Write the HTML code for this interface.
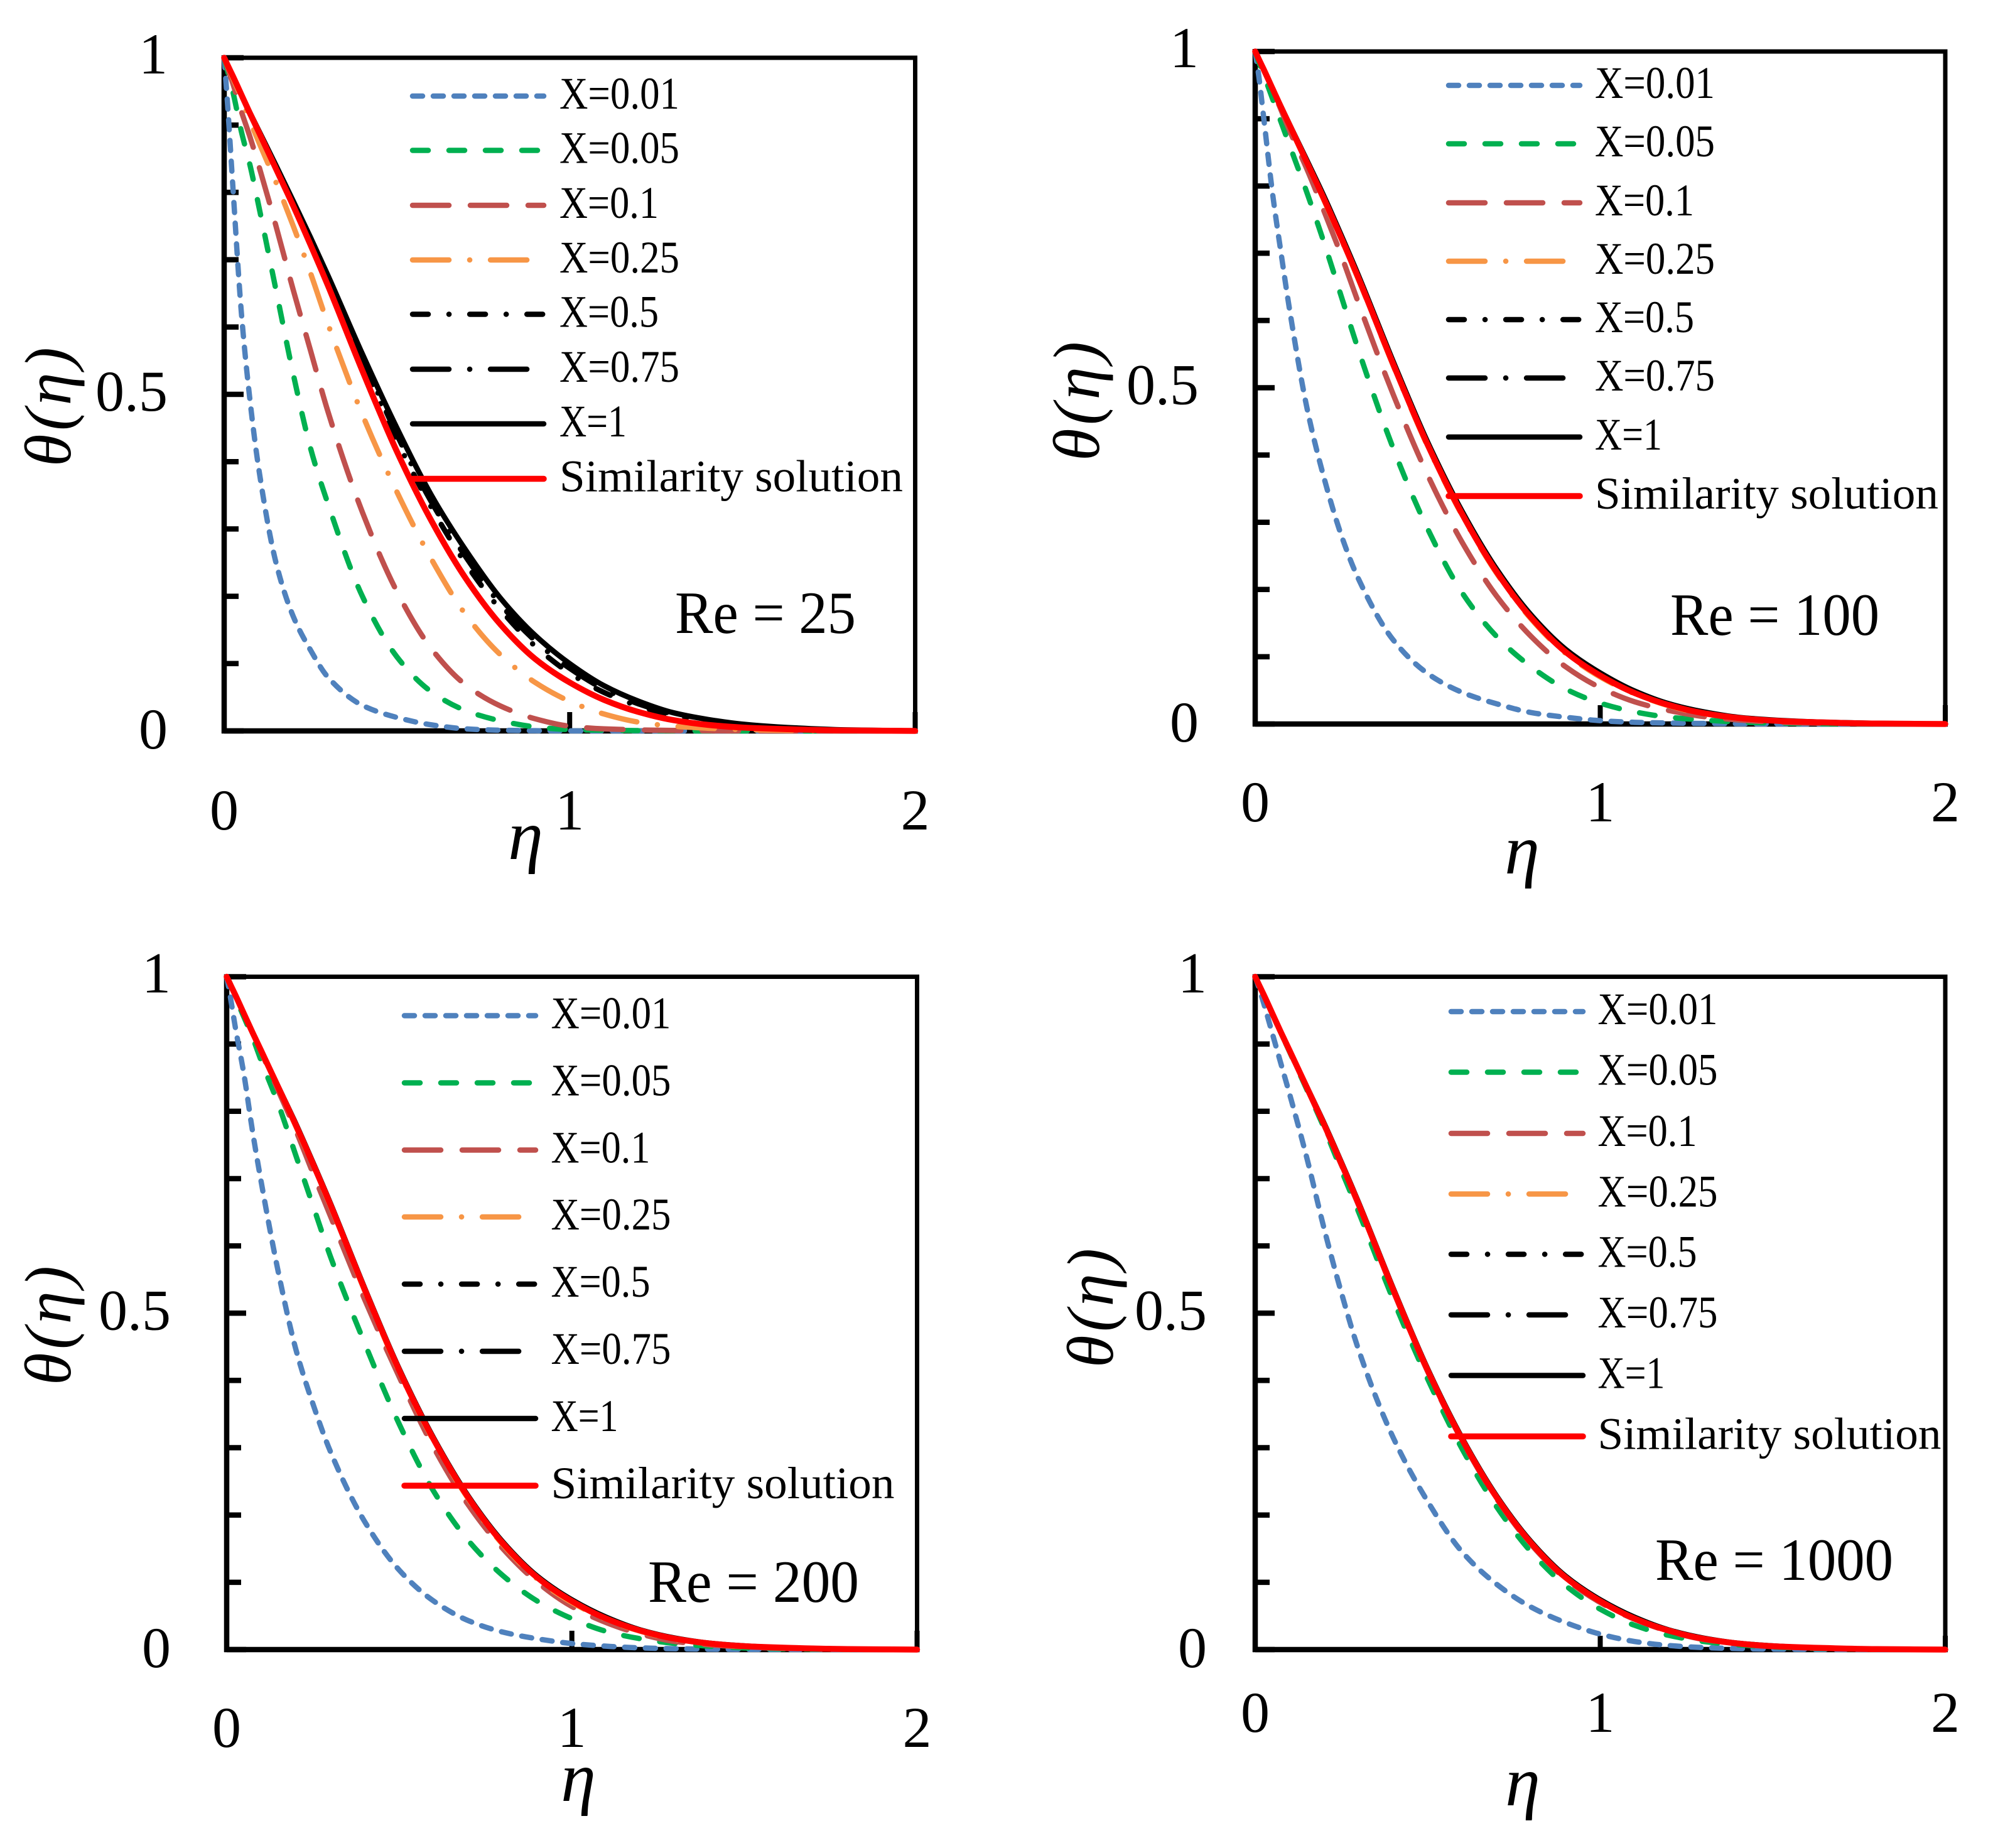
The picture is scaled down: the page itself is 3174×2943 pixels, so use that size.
<!DOCTYPE html>
<html lang="en">
<head>
<meta charset="utf-8">
<title>Theta profiles for Re = 25, 100, 200, 1000</title>
<style>
html,body{margin:0;padding:0;background:#fff;}
svg{display:block;}
text{font-family:"Liberation Serif",serif;fill:#000;}
</style>
</head>
<body>
<svg id="chart" xmlns="http://www.w3.org/2000/svg" width="3174" height="2943" viewBox="0 0 3174 2943"></svg>
<script>
const etaGrid = [0,.01,.025,.05,.075,.1,.15,.2,.25,.3,.4,.5,.6,.7,.8,.9,1,1.1,1.2,1.3,1.4,1.5,1.6,1.8,2];
const xTickLabels = [0,1,2];
const yTickLabels = [0,0.5,1];
const yMinorTicks = [0.1,0.2,0.3,0.4,0.6,0.7,0.8,0.9];
const legendLabels = ["X=0.01","X=0.05","X=0.1","X=0.25","X=0.5","X=0.75","X=1","Similarity solution"];

const re25X001 = [1,.93,.81,.62,.49,.39,.25,.17,.12,.08,.038,.02,.009,.003,.001,.0003,.0001,0,0,0,0,0,0,0,0];
const re25X005 = [1,.98,.95,.89,.84,.78,.655,.53,.42,.338,.2,.11,.058,.03,.015,.006,.002,.001,.0005,.0002,0,0,0,0,0];
const re25X01 = [1,.985,.962,.92,.882,.84,.75,.655,.565,.475,.325,.207,.122,.068,.037,.018,.007,.003,.0015,.0007,.0003,.0001,0,0,0];
const re25X025 = [1,.988,.97,.94,.906,.875,.815,.75,.68,.605,.47,.355,.255,.172,.113,.072,.044,.025,.013,.007,.004,.002,.001,.0002,0];
const re25X05 = [1,.989,.973,.945,.917,.89,.837,.782,.726,.667,.55,.432,.332,.248,.18,.126,.086,.057,.037,.023,.014,.008,.005,.001,0];
const re25X075 = [1,.989,.973,.945,.917,.891,.838,.785,.73,.672,.555,.44,.34,.258,.188,.134,.093,.062,.04,.025,.015,.009,.0055,.001,0];
const re25X1 = [1,.989,.973,.945,.918,.892,.84,.787,.733,.677,.56,.45,.35,.268,.197,.142,.1,.067,.044,.027,.017,.01,.006,.0015,0];
const re25Sim = [1,.989,.973,.945,.917,.89,.835,.78,.722,.662,.535,.415,.312,.226,.158,.107,.072,.046,.028,.016,.009,.005,.003,.0007,0];

const re100X001 = [1,.965,.9,.79,.7,.615,.47,.365,.28,.215,.125,.075,.047,.03,.017,.01,.005,.0025,.0015,.0008,.0004,.0002,0,0,0];
const re100X005 = [1,.985,.965,.93,.895,.86,.79,.715,.635,.555,.41,.29,.195,.13,.085,.052,.031,.018,.01,.006,.003,.0015,.0007,.0001,0];
const re100X01 = [1,.99,.972,.944,.913,.882,.825,.762,.696,.625,.49,.37,.27,.19,.13,.085,.054,.033,.02,.011,.006,.003,.0015,.0003,0];
const re100X025 = [1,.989,.973,.945,.916,.889,.834,.778,.72,.66,.533,.413,.31,.224,.156,.105,.07,.045,.027,.015,.0085,.0045,.0028,.0006,0];
const re100X05 = [1,.989,.973,.945,.917,.89,.835,.78,.722,.662,.535,.415,.312,.226,.158,.107,.072,.046,.028,.016,.009,.005,.003,.0007,0];
const re100X075 = [1,.989,.973,.945,.917,.89,.836,.782,.724,.664,.537,.417,.314,.228,.16,.109,.074,.048,.029,.017,.0095,.0055,.003,.0008,0];
const re100X1 = [1,.989,.973,.945,.918,.891,.838,.784,.726,.666,.539,.419,.316,.23,.162,.111,.076,.049,.03,.018,.01,.006,.0035,.001,0];
const re100Sim = [1,.989,.973,.945,.917,.89,.835,.78,.722,.662,.535,.415,.312,.226,.158,.107,.072,.046,.028,.016,.009,.005,.003,.0007,0];

const re200X001 = [1,.972,.925,.855,.77,.695,.56,.447,.365,.295,.19,.118,.072,.043,.026,.016,.009,.005,.0025,.0013,.0006,.0003,.0001,0,0];
const re200X005 = [1,.99,.97,.94,.91,.875,.81,.735,.66,.585,.455,.335,.235,.162,.11,.072,.046,.027,.016,.009,.005,.0025,.0012,.0002,0];
const re200X01 = [1,.989,.973,.945,.917,.888,.83,.772,.708,.645,.52,.405,.3,.215,.15,.1,.064,.04,.023,.012,.007,.004,.002,.0004,0];
const re200X025 = [1,.989,.973,.945,.916,.889,.834,.778,.72,.66,.533,.413,.31,.224,.156,.105,.07,.045,.027,.015,.0085,.0045,.0028,.0006,0];
const re200X05 = [1,.989,.973,.945,.917,.89,.835,.78,.722,.662,.535,.415,.312,.226,.158,.107,.072,.046,.028,.016,.009,.005,.003,.0007,0];
const re200X075 = [1,.989,.973,.945,.917,.89,.835,.781,.723,.663,.536,.416,.313,.227,.159,.108,.073,.047,.028,.016,.009,.005,.003,.0007,0];
const re200X1 = [1,.989,.973,.945,.917,.89,.836,.782,.724,.664,.537,.417,.314,.228,.16,.109,.074,.048,.029,.017,.0095,.0055,.003,.0008,0];
const re200Sim = [1,.989,.973,.945,.917,.89,.835,.78,.722,.662,.535,.415,.312,.226,.158,.107,.072,.046,.028,.016,.009,.005,.003,.0007,0];

const re1000X001 = [1,.985,.96,.915,.87,.825,.73,.625,.53,.445,.315,.22,.145,.097,.063,.04,.023,.012,.006,.003,.0015,.0007,.0003,0,0];
const re1000X005 = [1,.989,.972,.944,.916,.888,.832,.775,.712,.65,.52,.402,.298,.212,.145,.095,.06,.036,.021,.012,.007,.004,.002,.0004,0];
const re1000X01 = [1,.989,.973,.945,.916,.889,.834,.778,.72,.66,.533,.413,.31,.224,.156,.105,.07,.045,.027,.015,.0085,.0045,.0028,.0006,0];
const re1000X025 = [1,.989,.973,.945,.917,.89,.835,.78,.722,.662,.535,.415,.312,.226,.158,.107,.072,.046,.028,.016,.009,.005,.003,.0007,0];
const re1000X05 = [1,.989,.973,.945,.917,.89,.835,.78,.722,.662,.535,.415,.312,.226,.158,.107,.072,.046,.028,.016,.009,.005,.003,.0007,0];
const re1000X075 = [1,.989,.973,.945,.917,.89,.835,.781,.723,.663,.536,.416,.313,.227,.159,.108,.073,.047,.028,.016,.009,.005,.003,.0007,0];
const re1000X1 = [1,.989,.973,.945,.917,.89,.836,.782,.724,.664,.537,.417,.314,.228,.16,.109,.074,.048,.029,.017,.0095,.0055,.003,.0008,0];
const re1000Sim = [1,.989,.973,.945,.917,.89,.835,.78,.722,.662,.535,.415,.312,.226,.158,.107,.072,.046,.028,.016,.009,.005,.003,.0007,0];

const seriesStyles = [
  {color:"#4f81bd",dash:"16 17",w:8.5},
  {color:"#00b050",dash:"25 33",w:8.5},
  {color:"#c0504d",dash:"58 34",w:8.5},
  {color:"#f79646",dash:"58 33 0.1 33",w:8.5},
  {color:"#000000",dash:"25 33 0.1 33",w:8.5},
  {color:"#000000",dash:"58 33 0.1 33",w:8.5},
  {color:"#000000",dash:"",w:8.5},
  {color:"#ff0000",dash:"",w:9.5}
];

const panels = [
  {id:"re-25",title:"Re = 25",tw:288,tx:1075,ty:1008,l:357,r:1457.5,t:92,b:1164,yLabR:267,xLabY:1321,xTick:30,etaX:837,etaY:1368,thX:112,thY:648,
   legX:653,legEnd:870,legTx:891,legY:[153,239.5,327,414,500.5,588,675,762.5],
   series:[re25X001,re25X005,re25X01,re25X025,re25X05,re25X075,re25X1,re25Sim]},
  {id:"re-100",title:"Re = 100",tw:333,tx:2660,ty:1011,l:1999,r:3098,t:82,b:1153,yLabR:1909,xLabY:1308,xTick:30,etaX:2424,etaY:1391,thX:1750,thY:639,
   legX:2303,legEnd:2520,legTx:2540,legY:[136,229,323,416,509,602,696,790],
   series:[re100X001,re100X005,re100X01,re100X025,re100X05,re100X075,re100X1,re100Sim]},
  {id:"re-200",title:"Re = 200",tw:336,tx:1032,ty:2551,l:361,r:1460.5,t:1555.5,b:2627,yLabR:272,xLabY:2782,xTick:30,etaX:921,etaY:2868,thX:112,thY:2111,
   legX:640,legEnd:857,legTx:877.5,legY:[1617.5,1724.5,1831.5,1938,2045,2152,2259,2366],
   series:[re200X001,re200X005,re200X01,re200X025,re200X05,re200X075,re200X1,re200Sim]},
  {id:"re-1000",title:"Re = 1000",tw:379,tx:2636,ty:2516,l:1999,r:3098,t:1555.5,b:2627,yLabR:1922,xLabY:2758,xTick:22,etaX:2425,etaY:2875,thX:1772,thY:2083,
   legX:2307,legEnd:2525,legTx:2544.5,legY:[1611,1707.5,1805,1901.5,1997.5,2094,2190.5,2287.5],
   series:[re1000X001,re1000X005,re1000X01,re1000X025,re1000X05,re1000X075,re1000X1,re1000Sim]}
];

const NS = "http://www.w3.org/2000/svg";
const root = document.getElementById("chart");

function mk(tag, attrs, parent, txt) {
  const el = document.createElementNS(NS, tag);
  for (const k in attrs) el.setAttribute(k, attrs[k]);
  if (txt !== undefined) el.textContent = txt;
  parent.appendChild(el);
  return el;
}
function xScale(p, v) { return p.l + (p.r - p.l) * v / 2; }
function yScale(p, v) { return p.b - (p.b - p.t) * v; }
function yLabelOffset(v) { return v === 0 ? 28 : (v === 1 ? 25 : 26); }

function monotonePath(pts) {
  const n = pts.length, d = [], m = [];
  for (let i = 0; i < n - 1; i++) d[i] = (pts[i+1][1] - pts[i][1]) / (pts[i+1][0] - pts[i][0]);
  m[0] = d[0]; m[n-1] = d[n-2];
  for (let i = 1; i < n - 1; i++) {
    if (d[i-1] * d[i] <= 0) m[i] = 0;
    else {
      const h0 = pts[i][0] - pts[i-1][0], h1 = pts[i+1][0] - pts[i][0];
      m[i] = 3 * (h0 + h1) / ((2*h1 + h0) / d[i-1] + (h1 + 2*h0) / d[i]);
    }
  }
  let s = "M" + pts[0][0].toFixed(2) + " " + pts[0][1].toFixed(2);
  for (let i = 0; i < n - 1; i++) {
    const h = (pts[i+1][0] - pts[i][0]) / 3;
    s += "C" + (pts[i][0]+h).toFixed(2) + " " + (pts[i][1]+m[i]*h).toFixed(2) + " " +
         (pts[i+1][0]-h).toFixed(2) + " " + (pts[i+1][1]-m[i+1]*h).toFixed(2) + " " +
         pts[i+1][0].toFixed(2) + " " + pts[i+1][1].toFixed(2);
  }
  return s;
}

panels.forEach(function (p) {
  const g = mk("g", {}, root);
  
  

  const frame = mk("rect", {x:p.l,y:p.t,width:p.r-p.l,height:p.b-p.t,fill:"none",stroke:"#000","stroke-width":7}, g);
  
  

  const base = mk("line", {x1:p.l-4,x2:p.r+4,y1:p.b,y2:p.b,stroke:"#000","stroke-width":8.5}, g);
  
  
  const leftAxis = mk("line", {x1:p.l,x2:p.l,y1:p.t-4,y2:p.b+4,stroke:"#000","stroke-width":8.5}, g);
  
  

  yMinorTicks.forEach(function (v) {
    const t = mk("line", {x1:p.l,x2:p.l+23,y1:yScale(p,v),y2:yScale(p,v),stroke:"#000","stroke-width":8.5}, g);
    
    
  });
  yTickLabels.forEach(function (v) {
    const t = mk("line", {x1:p.l,x2:p.l+31,y1:yScale(p,v),y2:yScale(p,v),stroke:"#000","stroke-width":8.5}, g);
    
    
    const lab = mk("text", {x:p.yLabR,y:yScale(p,v)+yLabelOffset(v),"text-anchor":"end","font-size":92}, g, String(v));
    
    
  });
  xTickLabels.forEach(function (v) {
    const t = mk("line", {x1:xScale(p,v),x2:xScale(p,v),y1:p.b,y2:p.b-p.xTick,stroke:"#000","stroke-width":8}, g);
    
    
    const lab = mk("text", {x:xScale(p,v),y:p.xLabY,"text-anchor":"middle","font-size":92}, g, String(v));
    
    
  });

  p.series.forEach(function (vals, i) {
    const st = seriesStyles[i];
    const pts = etaGrid.map(function (e, j) { return [xScale(p, e), yScale(p, vals[j])]; });
    const path = mk("path", {d:monotonePath(pts),fill:"none",stroke:st.color,"stroke-width":st.w,"stroke-linecap":"round","stroke-linejoin":"round"}, g);
    if (st.dash) path.setAttribute("stroke-dasharray", st.dash);
    
    
  });

  legendLabels.forEach(function (lab, i) {
    const st = seriesStyles[i];
    const y = p.legY[i];
    const line = mk("line", {x1:p.legX+4,x2:p.legEnd-4,y1:y,y2:y,stroke:st.color,"stroke-width":st.w,"stroke-linecap":"round"}, g);
    if (st.dash) line.setAttribute("stroke-dasharray", st.dash);
    
    
    const len = lab === "Similarity solution" ? 547 : (lab.length === 6 ? 191 : lab.length === 5 ? 158 : 107);
    const tx = mk("text", {x:p.legTx,y:y+20,"font-size":72,textLength:len,lengthAdjust:"spacingAndGlyphs"}, g, lab);
    
    
  });

  const re = mk("text", {x:p.tx,y:p.ty,"font-size":95,textLength:p.tw,lengthAdjust:"spacingAndGlyphs"}, g, p.title);
  
  

  const eta = mk("text", {x:p.etaX,y:p.etaY,"text-anchor":"middle","font-size":112,"font-style":"italic"}, g, "η");
  
  

  const th = mk("text", {x:0,y:0,"text-anchor":"middle","font-size":105,"font-style":"italic",textLength:190,lengthAdjust:"spacing",transform:"translate(" + p.thX + " " + p.thY + ") rotate(-90)"}, g, "θ(η)");
  
  
});
</script>
</body>
</html>
